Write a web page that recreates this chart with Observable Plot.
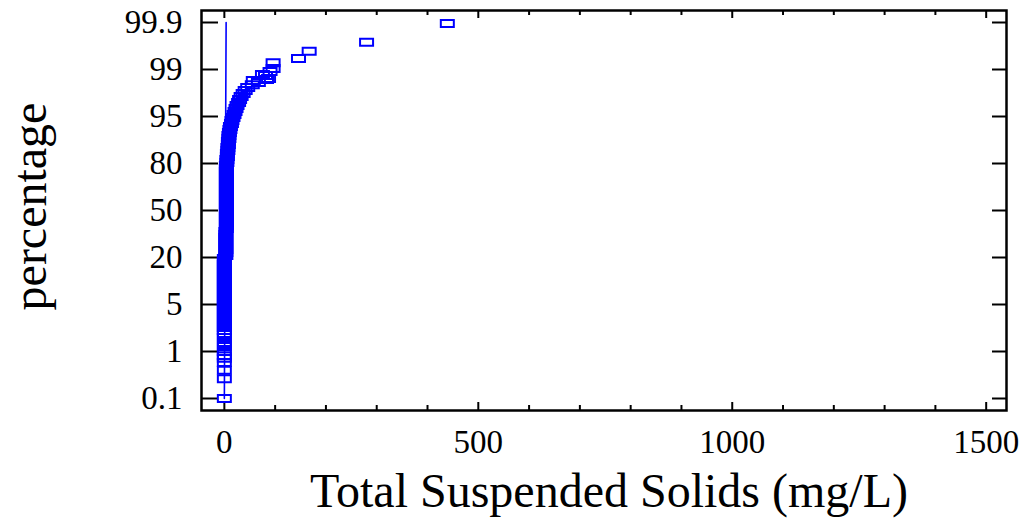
<!DOCTYPE html>
<html>
<head>
<meta charset="utf-8">
<script src="https://cdn.jsdelivr.net/npm/d3@7"></script>
<script src="https://cdn.jsdelivr.net/npm/@observablehq/plot@0.6"></script>
<style>
  body { margin: 0; background: #fff; }
  svg { display: block; }
</style>
</head>
<body>
<div id="chart"></div>
<script>
// Total suspended solids (mg/L), sorted, with each sample's cumulative percentage
const tss = [
  0, 0, 0, 0, 0, 0, 0, 0, 0, 0,
  0, 0, 0, 0, 0, 0, 0, 0, 0, 0,
  0, 0, 0, 0, 0, 0, 0, 0, 0, 0,
  0, 0, 0, 0, 0, 0,
  3, 3, 3, 3, 3, 3, 3, 3, 3,
  4, 4, 4, 4, 4, 4, 4, 4, 4, 4, 4, 4, 4, 4, 4, 4, 4, 4, 4, 4, 4, 4,
  5, 5, 6, 6, 7, 7, 8, 8, 9, 9, 10, 11, 12, 14, 15, 17,
  19, 21, 23, 25, 28, 30, 33, 37, 41, 46,
  55, 57, 67, 75, 81, 83, 87, 90, 96, 96, 146, 167, 280, 439
];
const pct = [
  0.1, 0.48, 0.64, 0.79, 0.87, 0.92, 1.0, 1.43, 1.77, 2.19,
  2.53, 2.79, 3.04, 3.30, 3.55, 3.81, 4.06, 4.32, 4.57, 4.83,
  5.32, 6.28, 7.23, 8.19, 9.15, 10.11, 11.06, 12.02, 12.98, 13.94,
  14.89, 15.85, 16.81, 17.77, 18.72, 19.68,
  21.28, 23.19, 25.11, 27.02, 28.94, 30.85, 32.77, 34.68, 36.60,
  38.51, 40.43, 42.34, 44.26, 46.17, 48.09, 50.00, 51.91, 53.83, 55.74, 57.66,
  59.57, 61.49, 63.40, 65.32, 67.23, 69.15, 71.06, 72.98, 74.89, 76.81, 78.72,
  80.32, 81.28, 82.23, 83.19, 84.15, 85.11, 86.06, 87.02, 87.98, 88.94, 89.89,
  90.85, 91.81, 92.77, 93.72, 94.68,
  95.17, 95.43, 95.68, 95.94, 96.19, 96.45, 96.70, 96.96, 97.21, 97.47,
  97.70, 98.06, 97.89, 98.57, 98.49, 98.15, 98.23, 98.83, 99.02, 99.13,
  99.21, 99.35, 99.52, 99.88
];

// Reference line of the probability plot
const fitTss = [0, 3.5];
const fitPct = [0.1, 99.9];

// Axis ticks
const pctTicks = [0.1, 1, 5, 20, 50, 80, 95, 99, 99.9];
const pctTickLabels = ["0.1", "1", "5", "20", "50", "80", "95", "99", "99.9"];
const tssMajorTicks = [0, 500, 1000, 1500];
const tssMinorTicks = [100, 200, 300, 400, 600, 700, 800, 900, 1100, 1200, 1300, 1400];

const xTitle = "Total Suspended Solids (mg/L)";
const yTitle = "percentage";

const samples = tss.map((x, i) => ({ tss: x, pct: pct[i] }));
const fitLine = fitTss.map((x, i) => ({ tss: x, pct: fitPct[i] }));

const W = 1023, H = 527;
const mL = 201, mR = 17, mT = 10, mB = 117;
const frameW = W - mL - mR, frameH = H - mT - mB;
const blue = "#0000ff";
const font = "'Liberation Serif', 'Times New Roman', serif";

// probability axis: the labelled percentages sit at equal steps
const step = 47, firstTickY = 398;
const pctRange = pctTicks.map((_, i) => firstTickY - i * step);

// open rectangle marker
const rectSymbol = {
  draw(context) {
    context.rect(-6.5, -3.5, 13, 7);
  }
};

const chart = Plot.plot({
  width: W,
  height: H,
  marginLeft: mL,
  marginRight: mR,
  marginTop: mT,
  marginBottom: mB,
  style: { fontFamily: font, background: "#fff", color: "#000" },
  x: { type: "linear", domain: [-45, 1540] },
  y: { type: "linear", domain: pctTicks, range: pctRange },
  marks: [
    // inward ticks on all four sides
    Plot.tickY(pctTicks, { y: d => d, stroke: "#000", strokeWidth: 2, insetRight: frameW - 17 }),
    Plot.tickY(pctTicks, { y: d => d, stroke: "#000", strokeWidth: 2, insetLeft: frameW - 14 }),
    Plot.tickX(tssMajorTicks, { x: d => d, stroke: "#000", strokeWidth: 2, insetTop: frameH - 8 }),
    Plot.tickX(tssMajorTicks, { x: d => d, stroke: "#000", strokeWidth: 2, insetBottom: frameH - 8 }),
    Plot.tickX(tssMinorTicks, { x: d => d, stroke: "#000", strokeWidth: 2, insetTop: frameH - 5 }),
    Plot.tickX(tssMinorTicks, { x: d => d, stroke: "#000", strokeWidth: 2, insetBottom: frameH - 5 }),
    Plot.line(fitLine, { x: "tss", y: "pct", stroke: blue, strokeWidth: 1.6 }),
    Plot.dot(samples, { x: "tss", y: "pct", symbol: rectSymbol, stroke: blue, strokeWidth: 2, fill: "none" }),
    Plot.frame({ stroke: "#000", strokeWidth: 2.5 }),
    Plot.axisX({
      ticks: tssMajorTicks,
      tickFormat: d => String(d),
      tickSize: 0,
      tickPadding: 19,
      fontSize: 33,
      label: null
    }),
    Plot.axisY({
      ticks: pctTicks,
      tickFormat: d => pctTickLabels[pctTicks.indexOf(d)],
      tickSize: 0,
      tickPadding: 19,
      fontSize: 33,
      label: null
    }),
    Plot.text([xTitle], {
      text: d => d,
      frameAnchor: "bottom",
      textAnchor: "middle",
      dx: 5,
      dy: 81,
      fontSize: 48,
      lineAnchor: "middle",
      fill: "#000"
    }),
    Plot.text([yTitle], {
      text: d => d,
      frameAnchor: "left",
      textAnchor: "middle",
      rotate: -90,
      dx: -171,
      dy: -4,
      fontSize: 48,
      lineAnchor: "middle",
      fill: "#000"
    })
  ]
});

document.getElementById("chart").appendChild(chart);
</script>
</body>
</html>
